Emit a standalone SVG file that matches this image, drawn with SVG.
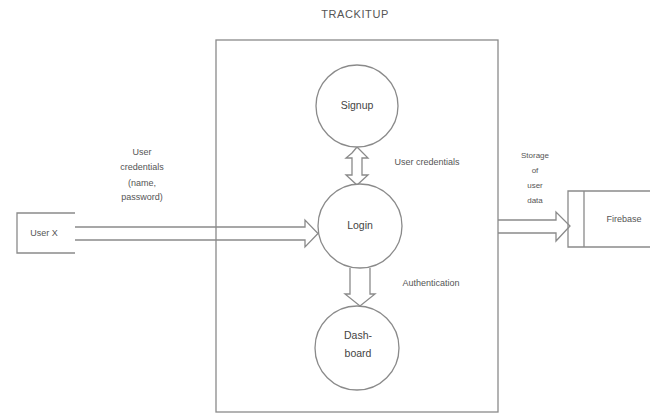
<svg xmlns="http://www.w3.org/2000/svg" width="654" height="414" viewBox="0 0 654 414">
<style>
.ln{fill:none;stroke:#8a8a8a;stroke-width:1.3}
.ar{fill:#fff;stroke:#8a8a8a;stroke-width:1.3;stroke-linejoin:miter}
.ao{fill:none;stroke:#8a8a8a;stroke-width:1.3;stroke-linejoin:miter}
.t{font-family:"Liberation Sans",Arial,sans-serif;font-size:9px;fill:#555;text-anchor:middle}
.n{font-family:"Liberation Sans",Arial,sans-serif;font-size:10.5px;fill:#444;text-anchor:middle}
</style>
<rect width="654" height="414" fill="#fff"/>
<text x="355" y="18" class="n" style="font-size:11px;fill:#555;letter-spacing:0.6px">TRACKITUP</text>
<g id="system">
<rect x="216" y="40" width="282" height="372" class="ln"/>
</g>
<g id="connectors">
<path class="ao" d="M75,227 H305 V220 L318,233.5 L305,247 V240 H75"/>
<path class="ar" d="M352,153 L346,158 L352,158 V175 H346 L357,185 L368,175 H362 V158 H368 L357,147 Z"/>
<path class="ar" d="M350,268 V294 H345 L360,306 L375,294 H370 V268"/>
<path class="ao" d="M498,220 H556 V212 L570,226 L556,241 V233 H498"/>
</g>
<g id="userx">
<path class="ln" d="M75,213 H17 V253 H75"/>
<text x="44" y="236" class="t">User X</text>
</g>
<g id="signup">
<circle cx="357" cy="106" r="41" class="ar"/>
<text x="357" y="109" class="n">Signup</text>
</g>
<g id="login">
<circle cx="360" cy="226" r="42" class="ar"/>
<text x="360" y="229" class="n">Login</text>
</g>
<g id="dashboard">
<circle cx="357" cy="348" r="42" class="ar"/>
<text x="358" y="339" class="n">Dash-</text>
<text x="358" y="357" class="n">board</text>
</g>
<g id="firebase">
<path class="ln" d="M650,191 H568 V247 H650 M584,191 V247"/>
<text x="624" y="222" class="t">Firebase</text>
</g>
<g id="labels">
<text x="142" y="155" class="t">User</text>
<text x="142" y="170" class="t">credentials</text>
<text x="142" y="186" class="t">(name,</text>
<text x="142" y="200" class="t">password)</text>
<text x="427" y="165" class="t">User credentials</text>
<text x="431" y="286" class="t">Authentication</text>
<text x="535" y="158" class="t" style="font-size:8px">Storage</text>
<text x="535" y="173" class="t" style="font-size:8px">of</text>
<text x="535" y="188" class="t" style="font-size:8px">user</text>
<text x="535" y="203" class="t" style="font-size:8px">data</text>
</g>
</svg>
